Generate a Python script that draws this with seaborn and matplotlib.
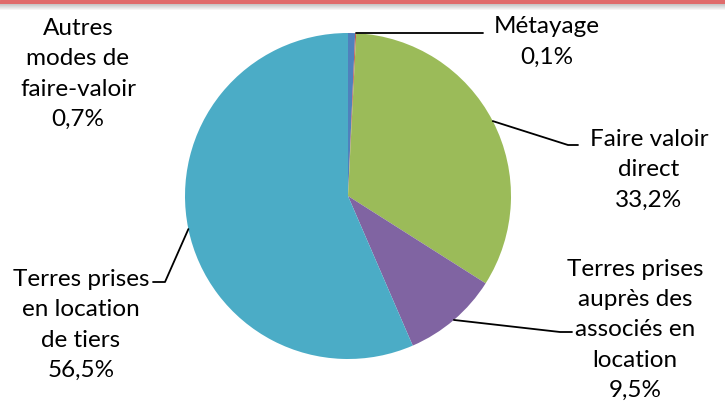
import numpy as np
import matplotlib
matplotlib.use("Agg")
import matplotlib.pyplot as plt
import seaborn as sns

# données (ordre horaire à partir de 12h)
labels = [
    "Autres\nmodes de\nfaire-valoir",
    "Métayage",
    "Faire valoir\ndirect",
    "Terres prises\nauprès des\nassociés en\nlocation",
    "Terres prises\nen location\nde tiers",
]
shares = [0.7, 0.1, 33.2, 9.5, 56.5]
colours = ["#4F81BD", "#C0504D", "#9BBB59", "#8064A2", "#4BACC6"]

sns.set_theme(style="white")
plt.rcParams["font.family"] = ["Lato", "DejaVu Sans"]

W, H = 725, 407
fig = plt.figure(figsize=(W / 100, H / 100), dpi=100)
ax = fig.add_axes([0, 0, 1, 1])

cx, cy, r = 348, H - 196, 163
wedges, _ = ax.pie(shares, colors=colours, startangle=90, counterclock=False,
                   center=(cx, cy), radius=r, frame=True,
                   wedgeprops=dict(linewidth=0))
ax.set_xlim(0, W)
ax.set_ylim(0, H)
ax.set_aspect("equal")
ax.axis("off")

# position des étiquettes (px, y vers le bas) et coude du trait de rappel
label_pos = [(78, 74), (547, 42), (649, 170), (635, 330), (81, 325)]
elbows = [None, (483, None), (568, 145), (560, 332), (165, 282)]
ends = [None, None, 578, 572, 153]

for w, txt, val, (lx, ly), elb, end in zip(wedges, labels, shares, label_pos, elbows, ends):
    s = f"{txt}\n{val:.1f}%".replace(".", ",")
    ax.text(lx, H - ly, s, ha="center", va="center", fontsize=17.5,
            linespacing=1.55, color="black")
    if elb is None:
        continue
    theta = np.deg2rad((w.theta1 + w.theta2) / 2)
    x0, y0 = cx + r * np.cos(theta), cy + r * np.sin(theta)
    if elb[1] is None:
        ax.plot([x0, elb[0]], [y0, y0], color="black", lw=1.3)
    else:
        ex, ey = elb[0], H - elb[1]
        ax.plot([x0, ex, end], [y0, ey, ey], color="black", lw=1.3)

# bandeau rouge en haut
fig.patches.append(plt.Rectangle((0, 1 - 4 / H), 1, 4 / H, transform=fig.transFigure,
                                 color="#E06C6C", zorder=5))
for i in range(7):
    g = 0.78 + 0.22 * i / 6
    fig.patches.append(plt.Rectangle((0, 1 - (5 + i) / H), 1, 1 / H, transform=fig.transFigure,
                                     color=(g, g, g), zorder=5, lw=0))

fig.savefig("out.png", dpi=100)
